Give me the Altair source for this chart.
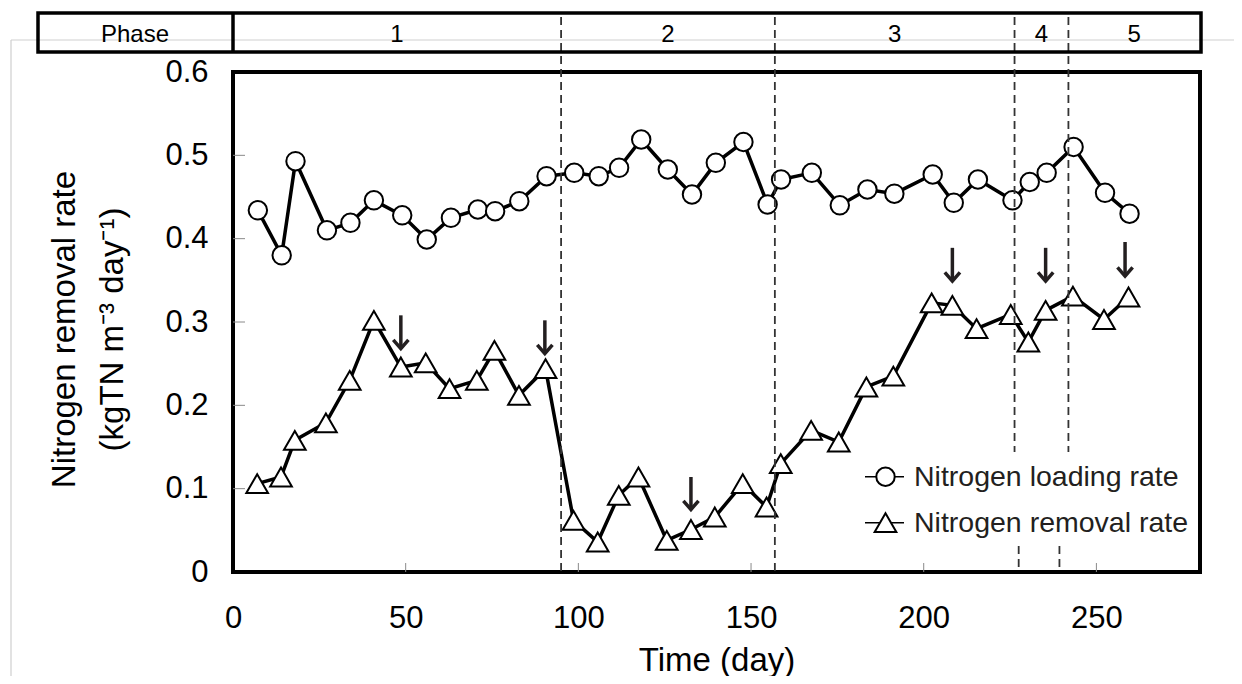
import altair as alt
import pandas as pd

# ---------------- data ----------------
load_day = [7.2, 14.1, 18.1, 27.2, 34.0, 40.8, 49.0, 56.1, 63.1, 70.9, 75.9, 82.9,
            90.8, 98.8, 105.9, 111.8, 118.2, 125.9, 132.9, 139.8, 147.8, 154.8,
            158.7, 167.6, 175.7, 183.7, 191.5, 202.6, 208.7, 215.7, 225.7, 230.7,
            235.6, 243.4, 252.5, 259.6]
load_rate = [0.434, 0.380, 0.493, 0.410, 0.419, 0.446, 0.428, 0.399, 0.425, 0.435,
             0.433, 0.445, 0.475, 0.479, 0.475, 0.485, 0.519, 0.483, 0.453, 0.491,
             0.516, 0.441, 0.471, 0.479, 0.440, 0.459, 0.454, 0.477, 0.443, 0.471,
             0.446, 0.468, 0.479, 0.510, 0.455, 0.430]

rem_day = [7.0, 13.9, 17.9, 26.9, 33.8, 40.8, 48.6, 55.8, 62.7, 70.6, 75.7, 82.8,
           90.5, 98.6, 105.6, 111.7, 117.4, 125.6, 132.6, 139.5, 147.6, 154.5,
           158.6, 167.4, 175.4, 183.4, 191.2, 202.3, 208.3, 215.3, 225.2, 230.3,
           235.3, 243.2, 252.2, 259.3]
rem_rate = [0.106, 0.114, 0.158, 0.179, 0.230, 0.302, 0.246, 0.251, 0.220, 0.230,
            0.266, 0.212, 0.244, 0.062, 0.036, 0.092, 0.114, 0.038, 0.051, 0.066,
            0.106, 0.078, 0.130, 0.170, 0.156, 0.222, 0.235, 0.323, 0.320, 0.292,
            0.309, 0.276, 0.314, 0.331, 0.303, 0.330]

arrow_day = [48.6, 90.3, 132.6, 208.3, 235.3, 258.3]
arrow_top = [0.308, 0.302, 0.114, 0.389, 0.389, 0.396]
arrow_tip = [0.268, 0.262, 0.075, 0.349, 0.349, 0.355]

phase_labels = ["1", "2", "3", "4", "5"]
phase_edges = [0, 95.0, 156.9, 226.3, 241.9, 280]
long_bounds = [95.0, 156.9]
short_bounds = [226.3, 241.9]
stub_bounds = [227.5, 239.3]

x_ticks = [0, 50, 100, 150, 200, 250]
y_ticks = [0, 0.1, 0.2, 0.3, 0.4, 0.5, 0.6]

legend_names = ["Nitrogen loading rate", "Nitrogen removal rate"]
legend_shapes = ["circle", "triangle-up"]

FONT = "Liberation Sans"
W, H = 967, 500
X_DOM = [0, 280]
Y_DOM = [0, 0.6]

load_df = pd.DataFrame({"day": load_day, "rate": load_rate})
rem_df = pd.DataFrame({"day": rem_day, "rate": rem_rate})
arrow_df = pd.DataFrame({"day": arrow_day, "rate": arrow_top, "rate2": arrow_tip})
tip_df = pd.DataFrame({"day": arrow_day, "rate": arrow_tip})
phase_df = pd.DataFrame({
    "label": phase_labels,
    "day": [(phase_edges[i] + phase_edges[i + 1]) / 2 for i in range(len(phase_labels))],
})
one = pd.DataFrame({"k": [0]})

xs = alt.Scale(domain=X_DOM, nice=False, zero=False)
ys = alt.Scale(domain=Y_DOM, nice=False, zero=False)

X = alt.X("day:Q", scale=xs, axis=alt.Axis(
    values=x_ticks, title="Time (day)", ticks=False, domain=False, grid=False,
    labelFlush=False, labelOverlap=False,
    labelFontSize=31, labelPadding=31, labelColor="black", labelFont=FONT,
    titleFontSize=33, titleFont=FONT, titleFontWeight="normal", titleColor="black",
    titleBaseline="alphabetic", titleY=98))
Y = alt.Y("rate:Q", scale=ys, axis=alt.Axis(
    values=y_ticks, format=".1~f",
    title=["Nitrogen removal rate", "(kgTN m\u207b\u00b3 day\u207b\u00b9)"],
    ticks=False, domain=False, grid=False,
    labelFlush=False, labelOverlap=False,
    labelFontSize=31, labelPadding=25, labelColor="black", labelFont=FONT,
    titleFontSize=33, titleFont=FONT, titleFontWeight="normal", titleColor="black",
    titleAngle=270, titleBaseline="alphabetic", titleAlign="center",
    titleX=-159, titleY=257, titleLineHeight=48))

layers = []

# faint page frame lines
layers.append(alt.Chart(one).mark_rule(color="#cfcfcf", strokeWidth=1.2).encode(
    x=alt.value(-222), x2=alt.value(1010), y=alt.value(-32)))
layers.append(alt.Chart(one).mark_rule(color="#cfcfcf", strokeWidth=1.2).encode(
    x=alt.value(-222), y=alt.value(-32), y2=alt.value(612)))

# loading rate
layers.append(alt.Chart(load_df).mark_line(color="black", strokeWidth=3.5).encode(x=X, y=Y))
layers.append(alt.Chart(load_df).mark_point(
    shape="circle", size=340, filled=True, fill="white", stroke="black", strokeWidth=2, opacity=1
).encode(x=X, y=Y))

# removal rate
layers.append(alt.Chart(rem_df).mark_line(color="black", strokeWidth=3.5).encode(x=X, y=Y))
layers.append(alt.Chart(rem_df).mark_point(
    shape="triangle-up", size=470, filled=True, fill="white", stroke="black", strokeWidth=2, opacity=1
).encode(x=X, y=Y))

# inward ticks
layers.append(alt.Chart(pd.DataFrame({"day": x_ticks[1:]})).mark_rule(
    color="#8a8a8a", strokeWidth=1).encode(x=X, y=alt.value(H - 9), y2=alt.value(H)))
layers.append(alt.Chart(pd.DataFrame({"rate": y_ticks[1:-1]})).mark_rule(
    color="#8a8a8a", strokeWidth=1).encode(y=Y, x=alt.value(0), x2=alt.value(12)))

# arrows
layers.append(alt.Chart(arrow_df).mark_rule(color="#231f20", strokeWidth=3.5).encode(
    x=X, y=Y, y2="rate2:Q"))
layers.append(alt.Chart(tip_df).mark_point(
    shape="M-1,-1.15L0,0L1,-1.15", size=230, filled=False, color="#231f20",
    strokeWidth=3.5, opacity=1).encode(x=X, y=Y))

# phase boundaries (dashed)
layers.append(alt.Chart(pd.DataFrame({"day": long_bounds})).mark_rule(
    color="#333333", strokeWidth=1.8, strokeDash=[8, 5]).encode(
    x=X, y=alt.value(-55), y2=alt.value(H)))
layers.append(alt.Chart(pd.DataFrame({"day": short_bounds})).mark_rule(
    color="#333333", strokeWidth=1.8, strokeDash=[8, 5]).encode(
    x=X, y=alt.value(-55), y2=alt.value(380)))
layers.append(alt.Chart(pd.DataFrame({"day": stub_bounds})).mark_rule(
    color="#333333", strokeWidth=1.8, strokeDash=[8, 5]).encode(
    x=X, y=alt.value(474), y2=alt.value(H)))

# phase header
layers.append(alt.Chart(one).mark_rect(fillOpacity=0, stroke="black", strokeWidth=3.5).encode(
    x=alt.value(-195), x2=alt.value(968), y=alt.value(-59), y2=alt.value(-20)))
layers.append(alt.Chart(one).mark_rule(color="black", strokeWidth=3.5).encode(
    x=alt.value(0), y=alt.value(-59), y2=alt.value(-20)))
layers.append(alt.Chart(one).mark_text(
    text="Phase", font=FONT, fontSize=24, color="black", baseline="alphabetic", align="center"
).encode(x=alt.value(-98), y=alt.value(-30)))
layers.append(alt.Chart(phase_df).mark_text(
    font=FONT, fontSize=24, color="black", baseline="alphabetic", align="center"
).encode(x=X, y=alt.value(-30), text="label:N"))

# legend
leg_y = [404.7, 450.7]
for name, shp, yy in zip(legend_names, legend_shapes, leg_y):
    layers.append(alt.Chart(one).mark_rule(color="black", strokeWidth=1.5).encode(
        x=alt.value(632), x2=alt.value(671), y=alt.value(yy)))
    layers.append(alt.Chart(one).mark_point(
        shape=shp, size=340 if shp == "circle" else 470, filled=True, fill="white",
        stroke="black", strokeWidth=2, opacity=1).encode(x=alt.value(652.5), y=alt.value(yy)))
    layers.append(alt.Chart(one).mark_text(
        text=name, font=FONT, fontSize=28.5, color="#231f20", baseline="alphabetic", align="left"
    ).encode(x=alt.value(681), y=alt.value(yy + 9)))

chart = alt.layer(*layers).properties(
    width=W, height=H,
    autosize=alt.AutoSizeParams(type="none"),
    padding={"left": 225, "top": 64, "right": 34, "bottom": 104},
).configure(
    font=FONT, background="white",
    view=alt.ViewConfig(stroke="black", strokeWidth=4),
)

chart.save("out.html", embed_options={"renderer": "svg", "actions": False})
